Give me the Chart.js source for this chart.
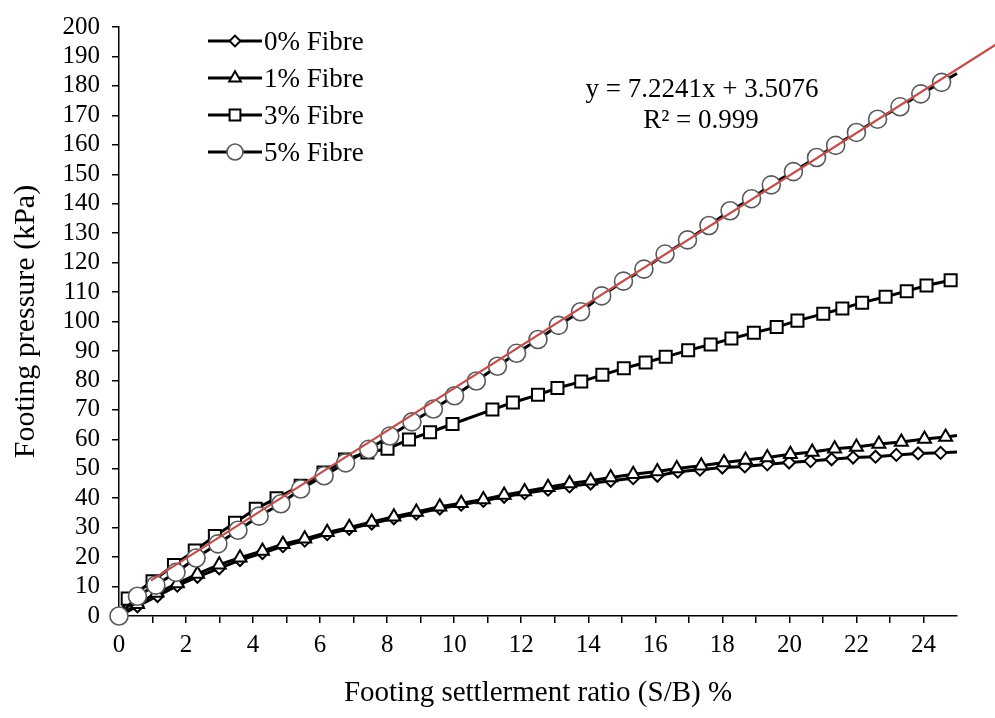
<!DOCTYPE html>
<html><head><meta charset="utf-8">
<script src="https://cdn.jsdelivr.net/npm/chart.js@4.4.1/dist/chart.umd.min.js"></script>
<style>html,body{margin:0;padding:0;background:#fff;} #wrap{width:995px;height:718px;}</style>
</head><body><div id="wrap"><canvas id="c" width="995" height="718"></canvas></div>
<script>
const seriesNames = ['0% Fibre', '1% Fibre', '3% Fibre', '5% Fibre'];
const xTitle = 'Footing settlerment ratio (S/B) %';
const yTitle = 'Footing pressure (kPa)';
const eqLines = ['y = 7.2241x + 3.5076', 'R\u00B2 = 0.999'];

const x0 = [0,0.55,1.15,1.74,2.34,2.99,3.61,4.28,4.89,5.54,6.21,6.87,7.54,8.2,8.87,9.57,10.21,10.87,11.49,12.1,12.8,13.44,14.07,14.67,15.34,16.06,16.67,17.33,18.0,18.67,19.34,19.99,20.63,21.26,21.9,22.57,23.19,23.84,24.51,25.0];
const y0 = [0,3.3,6.8,10.3,13.3,16.2,19,21.4,23.7,25.6,27.8,29.6,31.4,33.2,34.8,36.5,37.8,39.1,40.5,41.7,42.9,44.0,45.0,45.9,46.8,47.6,49.0,49.7,50.4,50.8,51.5,52.1,52.6,53.2,53.8,54.1,54.7,55.2,55.4,55.7];

const x1 = [0,0.55,1.12,1.74,2.34,2.99,3.61,4.28,4.89,5.54,6.21,6.87,7.54,8.2,8.87,9.57,10.21,10.87,11.49,12.1,12.8,13.44,14.07,14.67,15.34,16.06,16.64,17.37,18.05,18.69,19.34,20.03,20.68,21.35,22.0,22.67,23.34,24.03,24.66,25.0];
const y1 = [0,4,7.8,11,14.3,17.4,19.8,22.1,24.4,26.2,28.4,30.1,31.9,33.7,35.3,37.1,38.3,39.6,41.1,42.3,43.7,45,45.9,47,48.1,49.1,50.1,51.0,52.1,53.0,53.8,54.9,55.7,56.8,57.4,58.4,59.1,60.1,60.8,61.3];

const x3 = [0,0.26,1.0,1.64,2.26,2.86,3.46,4.08,4.7,5.42,6.1,6.74,7.41,8.01,8.65,9.28,9.95,11.14,11.75,12.5,13.08,13.79,14.42,15.06,15.71,16.31,16.98,17.65,18.27,18.94,19.62,20.24,21.01,21.58,22.17,22.87,23.5,24.09,24.81,25.0];
const y3 = [0,5.9,11.8,17.3,22.2,27.2,31.7,36.4,40,44.2,48.7,53.1,55.5,56.8,59.9,62.4,65.2,70.1,72.5,75.1,77.4,79.6,81.9,84.1,86.1,88.0,90.2,92.2,94.2,96.2,98.1,100.3,102.6,104.4,106.4,108.4,110.3,112.2,114,114.8];

const x5 = [0,0.55,1.1,1.7,2.3,2.95,3.55,4.18,4.83,5.42,6.12,6.76,7.45,8.08,8.74,9.38,10.01,10.66,11.29,11.86,12.5,13.11,13.77,14.4,15.05,15.66,16.29,16.96,17.6,18.23,18.87,19.46,20.12,20.81,21.38,22.0,22.63,23.3,23.92,24.54,25.0];
const y5 = [0,6.7,10.5,14.8,19.7,24.5,29.1,33.9,38.1,43.1,47.6,52,56.6,61.1,65.9,70.3,74.8,79.8,84.8,89.2,93.9,98.7,103.3,108.7,113.7,117.8,122.9,127.7,132.6,137.6,141.7,146.4,150.9,155.7,159.8,164.2,168.7,172.9,177.3,181.2,184.2];

const trendX = [0.95, 26.5];
const trendY = [12.0, 196.5];

const xTicksMax = 24;

function pts(xs, ys) { return xs.map((x, i) => ({x: x, y: ys[i]})); }
function lastHidden(r) { return ctx => (ctx.dataIndex === ctx.dataset.data.length - 1 ? 0 : r); }

const FONT = "'Liberation Serif', 'Times New Roman', serif";
Chart.defaults.font.family = FONT;
Chart.defaults.color = '#000';

const styles = [
  {style: 'rectRot', r: 6, bc: '#000', bw: 2},
  {style: 'triangle', r: 7.5, bc: '#000', bw: 2},
  {style: 'rect', r: 8.5, bc: '#000', bw: 2},
  {style: 'circle', r: 9, bc: '#595959', bw: 1.6}
];
const dataX = [x0, x1, x3, x5];
const dataY = [y0, y1, y3, y5];

const datasets = seriesNames.map((n, i) => ({
  label: n,
  data: pts(dataX[i], dataY[i]),
  borderColor: '#000',
  borderWidth: 3,
  pointStyle: styles[i].style,
  pointRadius: lastHidden(styles[i].r),
  pointHoverRadius: lastHidden(styles[i].r),
  pointBackgroundColor: '#fff',
  pointBorderColor: styles[i].bc,
  pointBorderWidth: styles[i].bw,
  showLine: true,
  tension: 0,
  clip: false,
  order: 4 - i
}));
datasets.push({
  label: 'trend',
  data: pts(trendX, trendY),
  borderColor: '#C0504D',
  borderWidth: 2.2,
  pointRadius: 0,
  showLine: true,
  clip: false,
  order: -1
});

function drawMarker(ctx, style, x, y, r, bc, bw) {
  ctx.save();
  ctx.fillStyle = '#fff';
  ctx.strokeStyle = bc;
  ctx.lineWidth = bw;
  ctx.beginPath();
  if (style === 'circle') {
    ctx.arc(x, y, r, 0, Math.PI * 2);
  } else if (style === 'rect') {
    const s = r * Math.SQRT1_2;
    ctx.rect(x - s, y - s, 2 * s, 2 * s);
  } else if (style === 'rectRot') {
    ctx.moveTo(x, y - r); ctx.lineTo(x + r, y); ctx.lineTo(x, y + r); ctx.lineTo(x - r, y); ctx.closePath();
  } else if (style === 'triangle') {
    ctx.moveTo(x, y - r);
    ctx.lineTo(x + r * 0.866, y + r * 0.5);
    ctx.lineTo(x - r * 0.866, y + r * 0.5);
    ctx.closePath();
  }
  ctx.fill();
  ctx.stroke();
  ctx.restore();
}

const overlay = {
  id: 'overlay',
  afterDraw(chart) {
    const ctx = chart.ctx;
    const rows = [41, 78, 115, 152];
    ctx.save();
    seriesNames.forEach((n, i) => {
      const y = rows[i];
      ctx.strokeStyle = '#000';
      ctx.lineWidth = 3;
      ctx.beginPath(); ctx.moveTo(208, y); ctx.lineTo(262, y); ctx.stroke();
      const st = styles[i];
      drawMarker(ctx, st.style, 235, y, st.style === 'circle' ? 8 : st.r * 0.9, st.bc, st.bw);
      ctx.fillStyle = '#000';
      ctx.font = '27px ' + FONT;
      ctx.textAlign = 'left';
      ctx.textBaseline = 'alphabetic';
      ctx.fillText(n, 264, y + 9);
    });
    ctx.font = '27px ' + FONT;
    ctx.textAlign = 'center';
    ctx.textBaseline = 'alphabetic';
    ctx.fillText(eqLines[0], 702, 97);
    ctx.fillText(eqLines[1], 701, 128);
    ctx.restore();
  }
};

new Chart(document.getElementById('c'), {
  type: 'scatter',
  data: {datasets: datasets},
  plugins: [overlay],
  options: {
    responsive: false,
    animation: false,
    devicePixelRatio: 1,
    layout: {padding: {left: 0, right: 38, top: 16, bottom: 0}},
    plugins: {legend: {display: false}, tooltip: {enabled: false}},
    scales: {
      x: {
        type: 'linear', min: 0, max: 25,
        afterBuildTicks: s => { s.ticks = s.ticks.filter(t => t.value <= xTicksMax); },
        afterFit: s => { s.height = 102; },
        ticks: {stepSize: 1, autoSkip: false, maxRotation: 0, padding: 7,
          font: {size: 25}, color: '#000',
          callback: v => (v % 2 === 0 ? String(v) : '')},
        grid: {display: true, drawOnChartArea: false, drawTicks: true, tickLength: 7, color: '#000', lineWidth: 1.5},
        border: {display: true, color: '#000', width: 1.5},
        title: {display: true, text: xTitle, font: {size: 29}, color: '#000', padding: {top: 0, bottom: 7}}
      },
      y: {
        type: 'linear', min: 0, max: 200,
        afterFit: s => { s.width = 119; },
        ticks: {stepSize: 10, autoSkip: false, padding: 12, font: {size: 25}, color: '#000'},
        grid: {display: true, drawOnChartArea: false, drawTicks: true, tickLength: 7, color: '#000', lineWidth: 1.5},
        border: {display: true, color: '#000', width: 1.5},
        title: {display: true, text: yTitle, font: {size: 30}, color: '#000', padding: {top: 8, bottom: 0}}
      }
    }
  }
});
</script>
</body></html>
